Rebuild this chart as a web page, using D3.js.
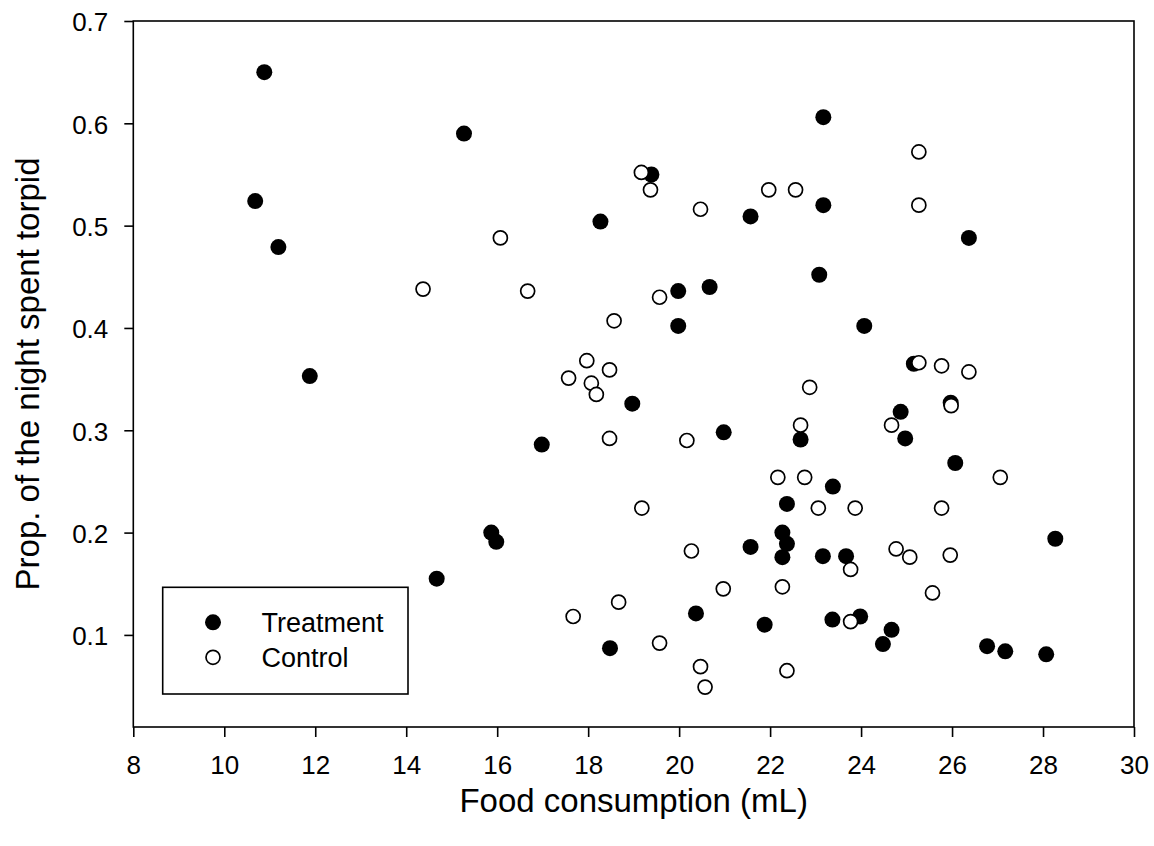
<!DOCTYPE html>
<html>
<head>
<meta charset="utf-8">
<script src="https://cdn.jsdelivr.net/npm/d3@7"></script>
<style>
  html, body { margin: 0; padding: 0; background: #fff; }
  svg { display: block; font-family: "Liberation Sans", Arial, sans-serif; }
</style>
</head>
<body>
<svg id="chart" width="1154" height="846"></svg>
<script>
// Food consumption (mL) vs. proportion of the night spent torpid
const treatmentFood = [10.88, 15.27, 10.68, 11.19, 23.17, 19.39, 18.27, 21.57, 23.17, 26.37,
  23.08, 19.98, 20.67, 19.98, 24.07, 11.88, 25.16, 18.97, 25.97, 24.87,
  24.97, 16.98, 20.98, 22.67, 26.07, 23.38, 22.37, 22.27, 22.37, 22.27,
  21.57, 23.16, 23.67, 28.27, 15.87, 15.98, 14.67, 18.48, 20.37, 21.88,
  23.37, 23.98, 24.67, 24.48, 26.77, 27.17, 28.07];
const treatmentTorpor = [0.650, 0.590, 0.524, 0.479, 0.606, 0.550, 0.504, 0.509, 0.520, 0.488,
  0.452, 0.436, 0.440, 0.402, 0.402, 0.353, 0.365, 0.326, 0.327, 0.318,
  0.292, 0.286, 0.298, 0.291, 0.268, 0.245, 0.228, 0.200, 0.189, 0.176,
  0.186, 0.177, 0.177, 0.194, 0.200, 0.191, 0.155, 0.087, 0.121, 0.110,
  0.115, 0.118, 0.105, 0.091, 0.089, 0.084, 0.081];

const controlFood = [16.07, 25.27, 19.17, 19.37, 20.47, 21.97, 22.56, 25.27, 14.37, 16.67,
  18.57, 19.57, 17.97, 17.57, 18.47, 18.07, 18.18, 18.47, 25.27, 25.77,
  26.37, 22.87, 25.98, 24.67, 22.67, 20.17, 27.06, 22.17, 22.76, 19.18,
  23.06, 23.87, 25.77, 20.27, 23.77, 24.77, 25.07, 25.96, 20.97, 22.27,
  25.57, 23.77, 19.57, 20.47, 20.57, 22.37, 17.67, 18.67];
const controlTorpor = [0.488, 0.572, 0.552, 0.535, 0.516, 0.535, 0.535, 0.520, 0.438, 0.436,
  0.407, 0.430, 0.368, 0.351, 0.359, 0.346, 0.335, 0.292, 0.366, 0.363,
  0.357, 0.342, 0.324, 0.305, 0.305, 0.290, 0.254, 0.254, 0.254, 0.224,
  0.224, 0.224, 0.224, 0.182, 0.164, 0.184, 0.176, 0.178, 0.145, 0.147,
  0.141, 0.113, 0.092, 0.069, 0.049, 0.065, 0.118, 0.132];

const xTicks = [8, 10, 12, 14, 16, 18, 20, 22, 24, 26, 28, 30];
const yTicks = [0.1, 0.2, 0.3, 0.4, 0.5, 0.6, 0.7];
const seriesNames = ["Treatment", "Control"];
const xTitle = "Food consumption (mL)";
const yTitle = "Prop. of the night spent torpid";

const svg = d3.select("#chart");
const plot = { left: 133.3, right: 1134, top: 21, bottom: 727 };

const x = d3.scaleLinear().domain([8, 30]).range([plot.left, plot.right]);
const y = d3.scaleLinear().domain([0.01, 0.7]).range([plot.bottom, plot.top]);

// axes
const xAxis = svg.append("g")
  .attr("transform", `translate(0,${plot.bottom})`)
  .call(d3.axisBottom(x).tickValues(xTicks).tickSize(10).tickPadding(19).tickSizeOuter(0)
    .tickFormat(d3.format("d")));
const yAxis = svg.append("g")
  .attr("transform", `translate(${plot.left},0)`)
  .call(d3.axisLeft(y).tickValues(yTicks).tickSize(9).tickPadding(16).tickSizeOuter(0)
    .tickFormat(d3.format(".1f")));

[xAxis, yAxis].forEach(g => {
  g.attr("font-size", null).attr("font-family", null);
  g.select(".domain").remove();
  g.selectAll(".tick line").attr("stroke", "#000").attr("stroke-width", 1.6);
  g.selectAll(".tick text")
    .attr("fill", "#000")
    .style("font-family", '"Liberation Sans", Arial, sans-serif')
    .style("font-size", "26px");
});
yAxis.selectAll(".tick text").attr("dy", "0.38em");

// frame
svg.append("rect")
  .attr("x", plot.left).attr("y", plot.top)
  .attr("width", plot.right - plot.left).attr("height", plot.bottom - plot.top)
  .attr("fill", "none").attr("stroke", "#000").attr("stroke-width", 1.6);

// titles
svg.append("text")
  .attr("x", (plot.left + plot.right) / 2).attr("y", 812)
  .attr("text-anchor", "middle").style("font-size", "33px").text(xTitle);
svg.append("text")
  .attr("transform", `translate(39,${(plot.top + plot.bottom) / 2}) rotate(-90)`)
  .attr("text-anchor", "middle").style("font-size", "33px").text(yTitle);

// points
const treatment = treatmentFood.map((v, i) => ({ food: v, torpor: treatmentTorpor[i] }));
const control = controlFood.map((v, i) => ({ food: v, torpor: controlTorpor[i] }));

svg.append("g").selectAll("circle").data(treatment).join("circle")
  .attr("cx", d => x(d.food)).attr("cy", d => y(d.torpor))
  .attr("r", 8).attr("fill", "#000");

svg.append("g").selectAll("circle").data(control).join("circle")
  .attr("cx", d => x(d.food)).attr("cy", d => y(d.torpor))
  .attr("r", 7).attr("fill", "#fff").attr("stroke", "#000").attr("stroke-width", 1.7);

// legend
const legend = svg.append("g");
legend.append("rect")
  .attr("x", 162.7).attr("y", 587.3).attr("width", 245.3).attr("height", 106.7)
  .attr("fill", "#fff").attr("stroke", "#000").attr("stroke-width", 1.6);
const rows = [
  { name: seriesNames[0], cy: 622.3, fill: "#000", r: 8, sw: 0 },
  { name: seriesNames[1], cy: 657.3, fill: "#fff", r: 7, sw: 1.7 }
];
rows.forEach(r => {
  legend.append("circle").attr("cx", 213).attr("cy", r.cy).attr("r", r.r)
    .attr("fill", r.fill).attr("stroke", "#000").attr("stroke-width", r.sw);
  legend.append("text").attr("x", 261.5).attr("y", r.cy).attr("dy", "0.36em")
    .style("font-size", "27px").text(r.name);
});
</script>
</body>
</html>
